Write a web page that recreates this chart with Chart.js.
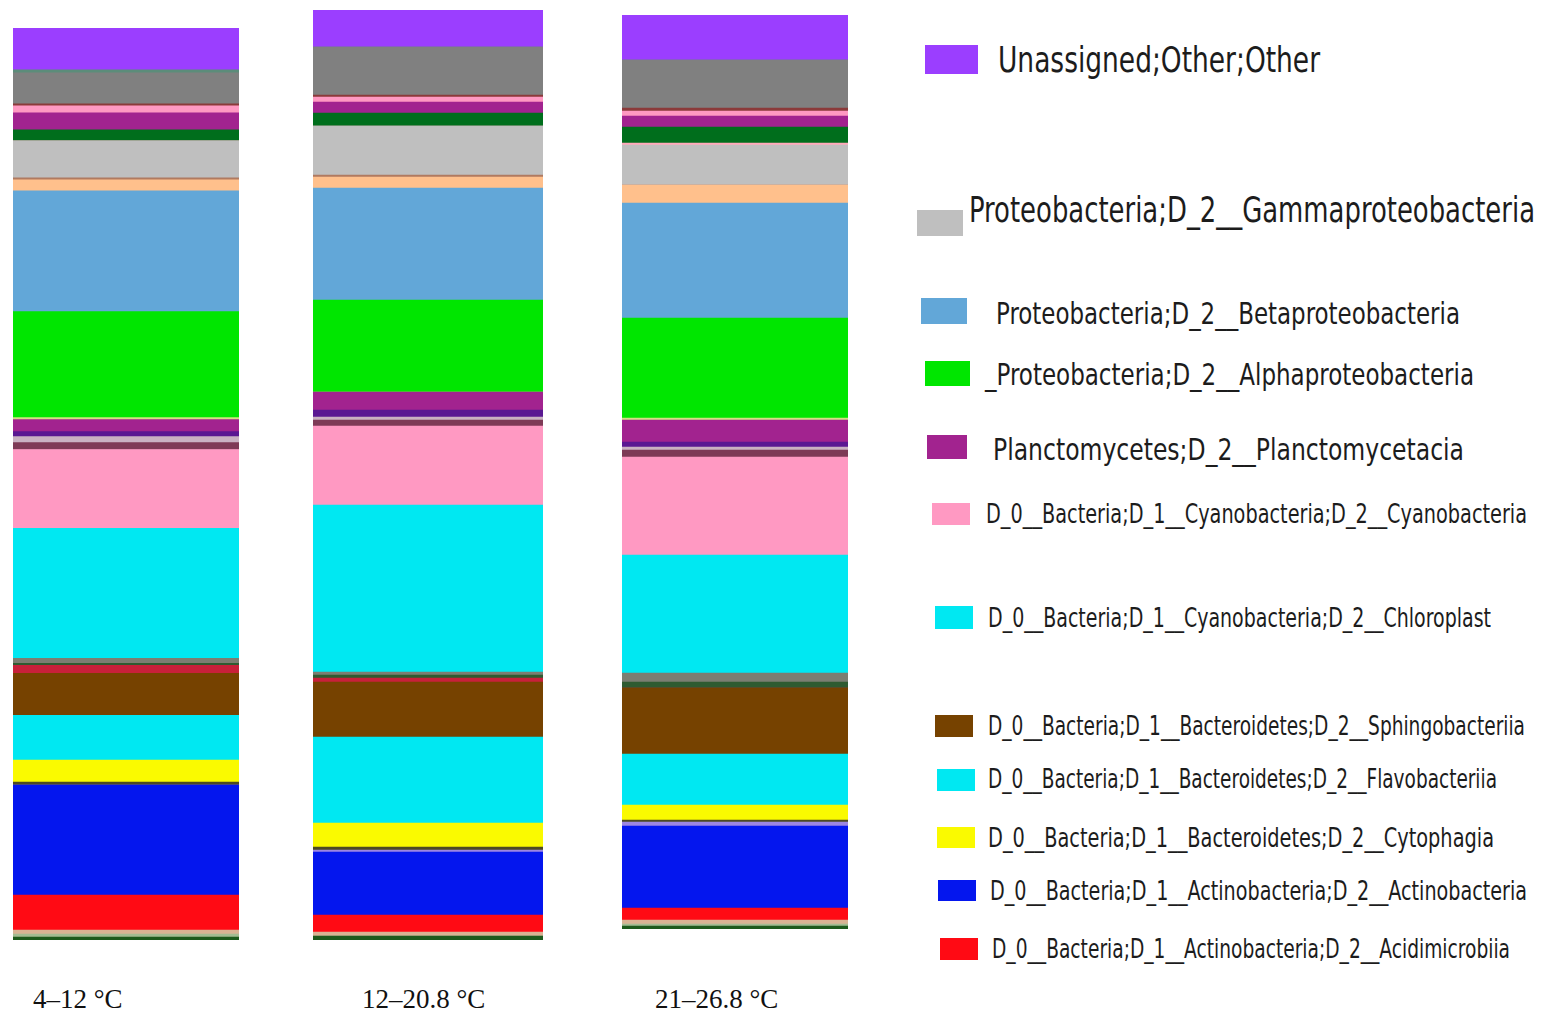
<!DOCTYPE html>
<html>
<head>
<meta charset="utf-8">
<script src="https://cdn.jsdelivr.net/npm/chart.js@4/dist/chart.umd.min.js"></script>
<style>
  html, body { margin: 0; padding: 0; background: #ffffff; }
  #page { position: relative; width: 1541px; height: 1013px; overflow: hidden; background: #ffffff; }
  canvas.bar { position: absolute; }
  .sample { position: absolute; font-family: "Liberation Serif", "Times New Roman", serif; font-size: 27px; color: #111; white-space: nowrap; line-height: 1; }
  .lg-box { position: absolute; }
  .lg-text { position: absolute; font-family: "DejaVu Sans Condensed", "DejaVu Sans", sans-serif; font-stretch: condensed; color: #1c1c1c; white-space: nowrap; line-height: 1; transform-origin: 0 50%; }
</style>
</head>
<body>
<div id="page"></div>
<script>
// Samples (water temperature ranges)
const samples = ['4–12 °C', '12–20.8 °C', '21–26.8 °C'];

// Taxon layers, stacked from the bottom of each column upwards
const layerNames = [
  'minor_darkgreen_base', 'minor_palegreen', 'minor_tan',
  'D_0__Bacteria;D_1__Actinobacteria;D_2__Acidimicrobiia',
  'D_0__Bacteria;D_1__Actinobacteria;D_2__Actinobacteria',
  'minor_lavender', 'minor_olive',
  'D_0__Bacteria;D_1__Bacteroidetes;D_2__Cytophagia',
  'D_0__Bacteria;D_1__Bacteroidetes;D_2__Flavobacteriia',
  'D_0__Bacteria;D_1__Bacteroidetes;D_2__Sphingobacteriia',
  'minor_red', 'minor_darkgreen_line', 'minor_grey_line',
  'D_0__Bacteria;D_1__Cyanobacteria;D_2__Chloroplast',
  'D_0__Bacteria;D_1__Cyanobacteria;D_2__Cyanobacteria',
  'minor_plum', 'minor_mauve', 'minor_violet',
  'Planctomycetes;D_2__Planctomycetacia',
  'minor_khaki',
  '_Proteobacteria;D_2__Alphaproteobacteria',
  'Proteobacteria;D_2__Betaproteobacteria',
  'minor_peach', 'minor_sienna',
  'Proteobacteria;D_2__Gammaproteobacteria',
  'minor_rose', 'minor_forest', 'minor_magenta', 'minor_pink', 'minor_maroon',
  'minor_grey', 'minor_teal',
  'Unassigned;Other;Other'
];

const layerColors = [
  '#1d5a1d', '#a3bc92', '#d9b394',
  '#ff0a14',
  '#0416ee',
  '#9c86e2', '#4c4a22',
  '#fafa00',
  '#00e8f2',
  '#764200',
  '#c8203a', '#2f5b31', '#7c7e72',
  '#00e8f2',
  '#ff99c2',
  '#7e3a56', '#c9b2c2', '#5a1892',
  '#a2238f',
  '#d2e084',
  '#00e600',
  '#62a7d8',
  '#ffc08c', '#b07a60',
  '#bfbfbf',
  '#ffaabb', '#006e1c', '#a2238f', '#ff99c2', '#8b3a3a',
  '#808080', '#5c8c7a',
  '#9b3eff'
];

// Relative abundance of each layer, same order as layerNames
const abund_4_12 = [
  3, 3, 4, 35, 110, 0, 3, 22, 45, 42,
  8, 2, 5, 130, 79, 7, 6, 5, 12, 2,
  106, 121, 11, 2, 37, 0, 11, 17, 7, 2,
  31, 3, 42
];
const abund_12_20 = [
  4, 0, 4, 17, 63, 2, 3, 24, 86, 55,
  4, 3, 3, 167, 79, 6, 3, 7, 18, 0,
  92, 112, 11, 2, 49, 0, 13, 11, 5, 2,
  48, 0, 37
];
const abund_21_26 = [
  3, 2, 4, 12, 82, 4, 2, 15, 51, 66,
  0, 6, 9, 118, 98, 7, 3, 5, 22, 2,
  100, 115, 18, 0, 40, 2, 16, 11, 5, 3,
  48, 0, 45
];
const sampleValues = [abund_4_12, abund_12_20, abund_21_26];

// Legend entries, top to bottom
const legendLabels = [
  'Unassigned;Other;Other',
  'Proteobacteria;D_2__Gammaproteobacteria',
  'Proteobacteria;D_2__Betaproteobacteria',
  '_Proteobacteria;D_2__Alphaproteobacteria',
  'Planctomycetes;D_2__Planctomycetacia',
  'D_0__Bacteria;D_1__Cyanobacteria;D_2__Cyanobacteria',
  'D_0__Bacteria;D_1__Cyanobacteria;D_2__Chloroplast',
  'D_0__Bacteria;D_1__Bacteroidetes;D_2__Sphingobacteriia',
  'D_0__Bacteria;D_1__Bacteroidetes;D_2__Flavobacteriia',
  'D_0__Bacteria;D_1__Bacteroidetes;D_2__Cytophagia',
  'D_0__Bacteria;D_1__Actinobacteria;D_2__Actinobacteria',
  'D_0__Bacteria;D_1__Actinobacteria;D_2__Acidimicrobiia'
];

// ---- layout ----
const columnFrames = [
  { left: 13,  top: 28, width: 226, height: 912 },
  { left: 313, top: 10, width: 230, height: 930 },
  { left: 622, top: 15, width: 226, height: 914 }
];
const sampleLabelPos = [
  { left: 33,  top: 986 },
  { left: 362, top: 986 },
  { left: 655, top: 986 }
];
// box: x, y, w, h ; text: x, centre y, font size, width
const legendLayout = [
  { bx: 925, by: 45,  bw: 53, bh: 29, tx: 998, ty: 60,  fs: 36, tw: 322 },
  { bx: 917, by: 210, bw: 46, bh: 26, tx: 969, ty: 210, fs: 35, tw: 566 },
  { bx: 921, by: 298, bw: 46, bh: 26, tx: 996, ty: 313, fs: 31, tw: 464 },
  { bx: 925, by: 361, bw: 45, bh: 25, tx: 985, ty: 374, fs: 31, tw: 489 },
  { bx: 927, by: 435, bw: 40, bh: 24, tx: 993, ty: 449, fs: 31, tw: 471 },
  { bx: 932, by: 503, bw: 38, bh: 22, tx: 986, ty: 514, fs: 26, tw: 541 },
  { bx: 935, by: 606, bw: 38, bh: 23, tx: 988, ty: 618, fs: 26, tw: 503 },
  { bx: 935, by: 715, bw: 38, bh: 22, tx: 988, ty: 726, fs: 26, tw: 537 },
  { bx: 937, by: 769, bw: 38, bh: 22, tx: 988, ty: 779, fs: 26, tw: 509 },
  { bx: 937, by: 827, bw: 38, bh: 21, tx: 988, ty: 838, fs: 26, tw: 506 },
  { bx: 938, by: 880, bw: 38, bh: 21, tx: 990, ty: 891, fs: 26, tw: 537 },
  { bx: 940, by: 938, bw: 38, bh: 22, tx: 992, ty: 949, fs: 26, tw: 518 }
];

const page = document.getElementById('page');

// One stacked column per sample
samples.forEach((sample, i) => {
  const f = columnFrames[i];
  const cv = document.createElement('canvas');
  cv.className = 'bar';
  cv.width = f.width;
  cv.height = f.height;
  cv.style.left = f.left + 'px';
  cv.style.top = f.top + 'px';
  page.appendChild(cv);

  const vals = sampleValues[i];
  const total = vals.reduce((a, b) => a + b, 0);

  new Chart(cv.getContext('2d'), {
    type: 'bar',
    data: {
      labels: [sample],
      datasets: layerNames.map((name, k) => ({
        label: name,
        data: [vals[k]],
        backgroundColor: layerColors[k],
        borderWidth: 0,
        barPercentage: 1,
        categoryPercentage: 1
      }))
    },
    options: {
      responsive: false,
      maintainAspectRatio: false,
      animation: false,
      layout: { padding: 0 },
      plugins: { legend: { display: false }, tooltip: { enabled: false } },
      scales: {
        x: { stacked: true, display: false },
        y: { stacked: true, display: false, min: 0, max: total }
      }
    }
  });

  const lab = document.createElement('div');
  lab.className = 'sample';
  lab.textContent = sample;
  lab.style.left = sampleLabelPos[i].left + 'px';
  lab.style.top = sampleLabelPos[i].top + 'px';
  page.appendChild(lab);
});

// Legend
legendLabels.forEach((text, j) => {
  const L = legendLayout[j];
  const color = layerColors[layerNames.indexOf(text)];
  const box = document.createElement('div');
  box.className = 'lg-box';
  Object.assign(box.style, {
    left: L.bx + 'px', top: L.by + 'px', width: L.bw + 'px', height: L.bh + 'px', background: color
  });
  page.appendChild(box);

  const t = document.createElement('div');
  t.className = 'lg-text';
  t.textContent = text;
  t.style.fontSize = L.fs + 'px';
  t.style.left = L.tx + 'px';
  page.appendChild(t);
  const r = t.getBoundingClientRect();
  t.style.top = (L.ty - r.height / 2) + 'px';
  t.style.transform = 'scaleX(' + (L.tw / r.width) + ')';
});
</script>
</body>
</html>
